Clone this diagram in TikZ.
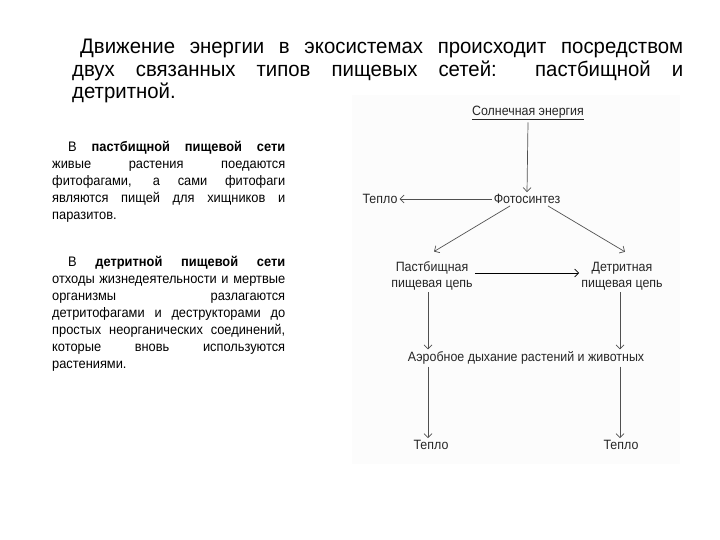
\documentclass[tikz,border=0pt]{standalone}
\usepackage{fontspec}
\setmainfont{Liberation Sans}
\newfontfamily\diagfont[FakeStretch=0.92]{Liberation Sans}
\newfontfamily\leftparafont[FakeStretch=0.93]{Liberation Sans}
\newfontfamily\titlefont[FakeStretch=0.97]{Liberation Sans}
\usetikzlibrary{arrows.meta}
\definecolor{lineg}{HTML}{505050}
\definecolor{bgpanel}{HTML}{FCFCFC}
\begin{document}
\begin{tikzpicture}[x=1pt,y=-1pt,
  lbl/.style={font=\diagfont\fontsize{13.5}{16}\selectfont, inner sep=2pt, align=center, text=black!85},
  arr/.style={draw=lineg, line width=0.7pt, -{Straight Barb[length=4pt,width=8pt]}},
  arrk/.style={draw=black, line width=0.7pt, -{Straight Barb[length=4pt,width=8pt]}},
  para/.style={anchor=north west, inner sep=0pt, text width=233pt, align=justify, font=\leftparafont\fontsize{13.8}{17}\selectfont}
]
\useasboundingbox (0,0) rectangle (720,540);
\fill[white] (0,0) rectangle (720,540);
\fill[bgpanel] (352,95) rectangle (680,464);

% title
\node[anchor=north west, inner sep=0pt, text width=611pt, align=justify,
      font=\titlefont\fontsize{21}{22.5}\selectfont] (title) at (72,39)
  {\emergencystretch=20pt\hspace*{8pt}Движение энергии в экосистемах происходит посредством\linebreak
   двух связанных типов пищевых сетей: пастбищной и\linebreak
   детритной.};

% left paragraphs
\node[para] (p1) at (52,141)
  {\hspace*{16pt}В \textbf{пастбищной пищевой сети}\linebreak
   живые растения поедаются\linebreak
   фитофагами, а сами фитофаги\linebreak
   являются пищей для хищников и\linebreak
   паразитов.};
\node[para] (p2) at (52,256)
  {\hspace*{16pt}В \textbf{детритной пищевой сети}\linebreak
   отходы жизнедеятельности и мертвые\linebreak
   организмы разлагаются\linebreak
   детритофагами и деструкторами до\linebreak
   простых неорганических соединений,\linebreak
   которые вновь используются\linebreak
   растениями.};

% diagram
\node[lbl] (sun) at (528,113) {\underline{Солнечная энергия}};
\node[lbl] (photo) at (527,199) {Фотосинтез};
\node[lbl] (heat1) at (380,199) {Тепло};
\node[lbl] (past) at (432,276) {Пастбищная\\пищевая цепь};
\node[lbl] (detr) at (622,276) {Детритная\\пищевая цепь};
\node[lbl] (aer) at (526,358) {Аэробное дыхание растений и животных};
\node[lbl] (heat2) at (431,445) {Тепло};
\node[lbl] (heat3) at (621,445) {Тепло};

\draw[arr] (sun.south) -- (photo.north);
\draw[arr] (photo.west) -- (heat1.east);
\draw[arr] ([xshift=-17pt]photo.south) -- ([xshift=2pt,yshift=8pt]past.north);
\draw[arr] ([xshift=21pt]photo.south) -- ([xshift=3pt,yshift=8pt]detr.north);
\draw[arrk] ([yshift=3pt]past.east) -- ([yshift=3pt]detr.west);
\draw[arr] ([xshift=-4pt]past.south) -- ([xshift=-4pt]past.south |- aer.north);
\draw[arr] ([xshift=-2pt]detr.south) -- ([xshift=-2pt]detr.south |- aer.north);
\draw[arr] ([xshift=-4pt]past.south |- aer.south) -- ([xshift=-4pt]past.south |- heat2.north);
\draw[arr] ([xshift=-2pt]detr.south |- aer.south) -- ([xshift=-2pt]detr.south |- heat3.north);
\end{tikzpicture}
\end{document}
